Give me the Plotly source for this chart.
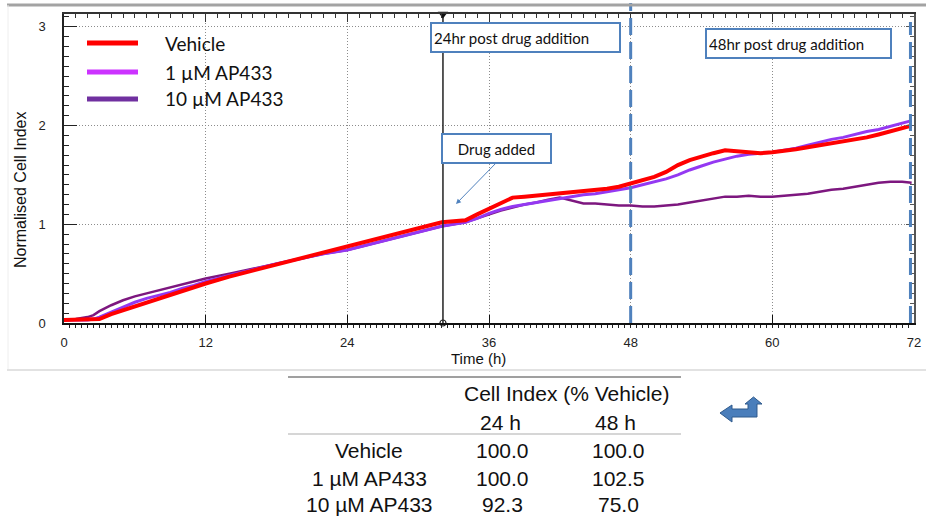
import plotly.graph_objects as go

# ---------------- data ----------------
time_h = [0, 1, 2, 2.5, 3, 4, 5, 6, 7, 8, 9, 10, 11, 12, 14, 16, 18, 20, 22, 24,
          26, 28, 30, 32, 33, 34, 35, 36, 37, 38, 39, 40, 41, 42, 43, 44, 45, 46,
          47, 48, 49, 50, 51, 52, 53, 54, 55, 56, 57, 58, 59, 60, 61, 62, 63, 64,
          65, 66, 67, 68, 69, 70, 71, 71.8]
vehicle = [0.03, 0.03, 0.03, 0.03, 0.04, 0.09, 0.13, 0.17, 0.21, 0.25, 0.28, 0.32, 0.36, 0.40,
           0.47, 0.53, 0.59, 0.65, 0.71, 0.77, 0.83, 0.89, 0.95, 1.02, 1.03, 1.04, 1.10, 1.16,
           1.22, 1.27, 1.28, 1.29, 1.30, 1.31, 1.32, 1.33, 1.34, 1.36, 1.38, 1.41, 1.44, 1.48,
           1.53, 1.60, 1.65, 1.69, 1.72, 1.75, 1.74, 1.73, 1.72, 1.73, 1.74, 1.76, 1.78, 1.80,
           1.82, 1.84, 1.86, 1.88, 1.91, 1.94, 1.97, 2.00]
ap433_1uM = [0.03, 0.03, 0.03, 0.04, 0.06, 0.11, 0.16, 0.21, 0.25, 0.28, 0.31, 0.35, 0.38, 0.42,
             0.48, 0.54, 0.60, 0.65, 0.70, 0.74, 0.80, 0.86, 0.92, 0.98, 1.00, 1.02, 1.06, 1.11,
             1.15, 1.18, 1.20, 1.22, 1.24, 1.26, 1.28, 1.30, 1.31, 1.33, 1.35, 1.37, 1.40, 1.43,
             1.46, 1.50, 1.55, 1.59, 1.63, 1.66, 1.69, 1.71, 1.72, 1.73, 1.75, 1.77, 1.80, 1.83,
             1.86, 1.88, 1.91, 1.94, 1.96, 1.99, 2.02, 2.05]
ap433_10uM = [0.03, 0.04, 0.06, 0.08, 0.12, 0.18, 0.23, 0.27, 0.30, 0.33, 0.36, 0.39, 0.42, 0.45,
              0.50, 0.55, 0.60, 0.65, 0.70, 0.74, 0.80, 0.86, 0.92, 0.98, 1.00, 1.02, 1.06, 1.10,
              1.14, 1.17, 1.20, 1.22, 1.25, 1.27, 1.24, 1.21, 1.21, 1.20, 1.19, 1.19, 1.18, 1.18,
              1.19, 1.20, 1.22, 1.24, 1.26, 1.28, 1.28, 1.29, 1.28, 1.28, 1.29, 1.30, 1.31, 1.33,
              1.35, 1.36, 1.38, 1.40, 1.42, 1.43, 1.43, 1.42]

series_names = ["Vehicle", "1 µM AP433", "10 µM AP433"]
series_values = [vehicle, ap433_1uM, ap433_10uM]
line_colors = ["#FF0000", "#9438F2", "#7D177F"]
legend_colors = ["#FF0000", "#CC33FF", "#7030A0"]
line_widths = [4, 3, 2.5]

x_ticks = [0, 12, 24, 36, 48, 60, 72]
y_ticks = [0, 1, 2, 3]
x_range = [0, 72]
y_range = [0, 3.13]

drug_added_h = 32.1
post24_h = 48
post48_h = 71.7

table_header = "Cell Index (% Vehicle)"
table_cols = ["24 h", "48 h"]
table_rows = ["Vehicle", "1 µM AP433", "10 µM AP433"]
ci_24h = [100.0, 100.0, 92.3]
ci_48h = [100.0, 102.5, 75.0]

# ---------------- geometry helpers ----------------
W, H = 926, 517
L, R, T, B = 64, 12, 14, 194
PW, PH = W - L - R, H - T - B


def px(xp):
    return (xp - L) / PW


def py(yp):
    return (H - B - yp) / PH


ARIAL = "Liberation Sans, Arial, sans-serif"
CALIBRI = "Lato, Carlito, Calibri, sans-serif"
BLUE = "#4F81BD"

fig = go.Figure()

# series (10 µM first so red sits on top)
for i in [2, 1, 0]:
    fig.add_trace(go.Scatter(x=time_h, y=series_values[i], mode="lines",
                             name=series_names[i], showlegend=False,
                             line=dict(color=line_colors[i], width=line_widths[i])))

# drug-added marker line
fig.add_trace(go.Scatter(x=[drug_added_h, drug_added_h], y=[0, y_range[1]], mode="lines",
                         line=dict(color="#222222", width=1.5), showlegend=False,
                         hoverinfo="skip"))
fig.add_trace(go.Scatter(x=[drug_added_h], y=[y_range[1]], mode="markers",
                         marker=dict(symbol="triangle-down", size=9, color="#111111"),
                         cliponaxis=False, showlegend=False, hoverinfo="skip"))
fig.add_trace(go.Scatter(x=[drug_added_h], y=[0], mode="markers",
                         marker=dict(symbol="circle-open", size=6, color="#222222",
                                     line=dict(width=1.2)),
                         cliponaxis=False, showlegend=False, hoverinfo="skip"))

# empty trace for mirrored axes
fig.add_trace(go.Scatter(x=[None], y=[None], xaxis="x2", yaxis="y2", showlegend=False))

shapes = []
# dashed blue reference lines
for xv, ytop in [(post24_h, py(3)), (post48_h, py(22))]:
    shapes.append(dict(type="line", xref="x", yref="paper", x0=xv, x1=xv, y0=0, y1=ytop,
                       line=dict(color=BLUE, width=3, dash="17px,7px"), layer="above"))

# legend background + swatches
shapes.append(dict(type="rect", xref="paper", yref="paper", x0=px(65), x1=px(288),
                   y0=py(116), y1=py(15), fillcolor="white", line=dict(width=0),
                   layer="between"))
legend_y = [43, 72, 99]
annotations = []
for name, col, ly in zip(series_names, legend_colors, legend_y):
    shapes.append(dict(type="line", xref="paper", yref="paper", x0=px(87), x1=px(138),
                       y0=py(ly), y1=py(ly), line=dict(color=col, width=5)))
    annotations.append(dict(text=name, xref="paper", yref="paper", x=px(163), y=py(ly),
                            xanchor="left", yanchor="middle", showarrow=False,
                            font=dict(family=CALIBRI, size=19, color="#111111")))

# frame lines around the chart image
shapes.append(dict(type="line", xref="paper", yref="paper", x0=px(7), x1=px(926),
                   y0=py(5), y1=py(5), line=dict(color="#A3A3A3", width=3)))
shapes.append(dict(type="line", xref="paper", yref="paper", x0=px(8), x1=px(8),
                   y0=py(5), y1=py(370), line=dict(color="#EEEEEE", width=1)))
shapes.append(dict(type="line", xref="paper", yref="paper", x0=px(7), x1=px(926),
                   y0=py(370), y1=py(370), line=dict(color="#E2E2E2", width=2)))

# table rules
shapes.append(dict(type="line", xref="paper", yref="paper", x0=px(288), x1=px(681),
                   y0=py(377), y1=py(377), line=dict(color="#A0A0A0", width=2)))
shapes.append(dict(type="line", xref="paper", yref="paper", x0=px(288), x1=px(681),
                   y0=py(434), y1=py(434), line=dict(color="#C8C8C8", width=1.5)))

# return-arrow icon
icon = [(720, 413), (732, 405), (732, 409), (748, 409), (748, 404), (745, 404),
        (753.5, 397), (762, 404), (757, 404), (757, 417), (732, 417), (732, 422)]
path = "M " + " L ".join(f"{px(a):.5f},{py(b):.5f}" for a, b in icon) + " Z"
shapes.append(dict(type="path", xref="paper", yref="paper", path=path,
                   fillcolor="#4A7EBB", line=dict(color="#2F5A8C", width=1)))

# boxed text annotations
annotations.append(dict(text="24hr post drug addition", xref="paper", yref="paper",
                        x=px(430), y=py(22), xanchor="left", yanchor="top",
                        showarrow=False, align="left", width=183, height=23,
                        bgcolor="white", bordercolor=BLUE, borderwidth=2, borderpad=2,
                        font=dict(family=CALIBRI, size=15, color="#111111")))
annotations.append(dict(text="48hr post drug addition", xref="paper", yref="paper",
                        x=px(705), y=py(28), xanchor="left", yanchor="top",
                        showarrow=False, align="left", width=179, height=23,
                        bgcolor="white", bordercolor=BLUE, borderwidth=2, borderpad=2,
                        font=dict(family=CALIBRI, size=15, color="#111111")))
annotations.append(dict(text="Drug added", xref="paper", yref="paper",
                        x=px(441), y=py(133), xanchor="left", yanchor="top",
                        showarrow=False, align="center", width=103, height=23,
                        bgcolor="white", bordercolor=BLUE, borderwidth=2, borderpad=2,
                        font=dict(family=CALIBRI, size=15, color="#111111")))
annotations.append(dict(text="", xref="paper", yref="paper", x=px(456), y=py(204),
                        ax=41, ay=-42, axref="pixel", ayref="pixel", showarrow=True,
                        arrowhead=2, arrowsize=1, arrowwidth=1, arrowcolor=BLUE))

# axis titles
annotations.append(dict(text="Normalised Cell Index", xref="paper", yref="paper",
                        x=px(20), y=py(190), textangle=-90, showarrow=False,
                        xanchor="center", yanchor="middle",
                        font=dict(family=ARIAL, size=16, color="#111111")))
annotations.append(dict(text="Time (h)", xref="paper", yref="paper",
                        x=px(478), y=py(358), showarrow=False,
                        xanchor="center", yanchor="middle",
                        font=dict(family=ARIAL, size=15, color="#111111")))

# table text
tfont = dict(family=ARIAL, size=21, color="#111111")


def cell(text, xp, yp):
    return dict(text=text, xref="paper", yref="paper", x=px(xp), y=py(yp),
                xanchor="center", yanchor="middle", showarrow=False, font=tfont)


annotations.append(cell(table_header, 566, 393))
for cx, label in zip([500, 615], table_cols):
    annotations.append(cell(label, cx, 422))
row_y = [450, 478, 505]
for ry, name, v24, v48 in zip(row_y, table_rows, ci_24h, ci_48h):
    annotations.append(cell(name, 369, ry))
    annotations.append(cell(f"{v24:.1f}", 502, ry))
    annotations.append(cell(f"{v48:.1f}", 618, ry))

grid = dict(showgrid=True, gridcolor="#8C8C8C", gridwidth=1, griddash="1px,2px")

fig.update_layout(
    width=W, height=H, autosize=False,
    margin=dict(l=L, r=R, t=T, b=B, autoexpand=False),
    paper_bgcolor="white", plot_bgcolor="white",
    showlegend=False,
    xaxis=dict(range=x_range, tickvals=x_ticks, ticks="inside", ticklen=8,
               tickcolor="#111111", tickwidth=1, showline=True, linecolor="#111111",
               linewidth=2, zeroline=False, ticklabelstandoff=6, automargin=False,
               tickfont=dict(family=ARIAL, size=13, color="#222222"),
               minor=dict(dtick=0.5, ticks="outside", ticklen=3, tickcolor="#222222",
                          showgrid=False),
               **grid),
    xaxis2=dict(range=x_range, overlaying="x", side="top", tickvals=x_ticks,
                showticklabels=False, ticks="inside", ticklen=8, tickcolor="#333333",
                showline=True, linecolor="#333333", linewidth=1.5, showgrid=False,
                zeroline=False, automargin=False,
                minor=dict(dtick=1, ticks="inside", ticklen=4, tickcolor="#333333",
                           showgrid=False)),
    yaxis=dict(range=y_range, tickvals=y_ticks, ticks="inside", ticklen=13,
               tickcolor="#222222", showline=True, linecolor="#222222", linewidth=1.5,
               zeroline=False, ticklabelstandoff=14, automargin=False,
               tickfont=dict(family=ARIAL, size=13, color="#222222"),
               minor=dict(dtick=0.1, ticks="inside", ticklen=5, tickcolor="#222222",
                          showgrid=False),
               **grid),
    yaxis2=dict(range=y_range, overlaying="y", side="right", tickvals=y_ticks,
                showticklabels=False, ticks="inside", ticklen=8, tickcolor="#555555",
                showline=True, linecolor="#555555", linewidth=1.5, showgrid=False,
                zeroline=False, automargin=False,
                minor=dict(dtick=0.1, ticks="inside", ticklen=4, tickcolor="#555555",
                           showgrid=False)),
    shapes=shapes,
    annotations=annotations,
)

fig.write_html("out.html")
